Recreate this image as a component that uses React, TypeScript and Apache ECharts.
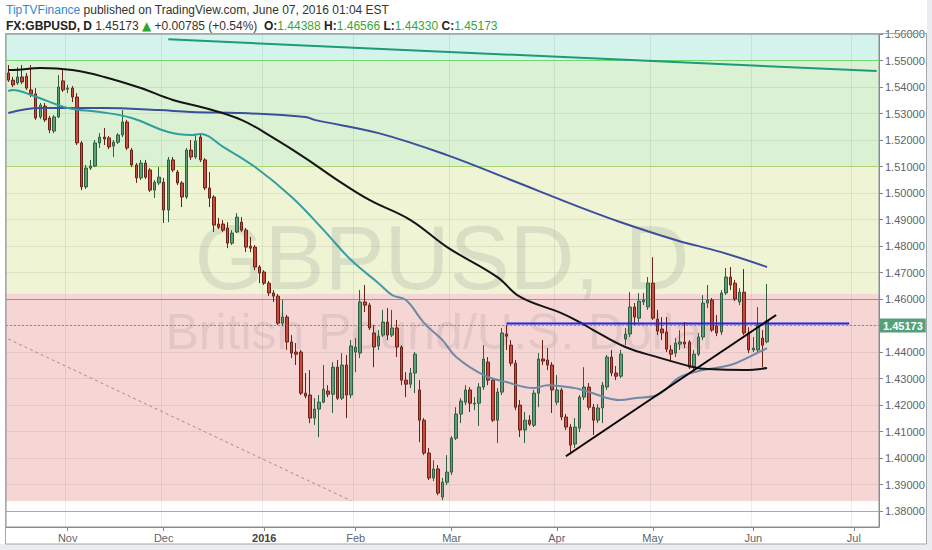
import { useEffect, useRef } from 'react';
import * as echarts from 'echarts';

// ---- categories (daily FX bars, weekdays, market closed on the listed days)
const firstDay = '2015-10-14';
const lastDay = '2016-07-08';
const closedDays = ['2015-12-25', '2016-01-01'];
const monthNames = ['Jan', 'Feb', 'Mar', 'Apr', 'May', 'Jun', 'Jul', 'Aug', 'Sep', 'Oct', 'Nov', 'Dec'];

// ---- candles: [open, close, low, high]
const candles: number[][] = [
  [1.5453, 1.5426, 1.5419, 1.5483], [1.5426, 1.5408, 1.54, 1.5438], [1.5415, 1.5438, 1.5408, 1.5475],
  [1.5438, 1.5419, 1.5411, 1.5483], [1.5441, 1.5396, 1.5389, 1.5453], [1.5389, 1.5374, 1.5362, 1.5483],
  [1.5374, 1.5283, 1.5276, 1.5396], [1.5287, 1.5332, 1.5279, 1.534], [1.5328, 1.5276, 1.5268, 1.534],
  [1.5283, 1.5238, 1.5226, 1.5291], [1.5234, 1.5287, 1.5226, 1.5294], [1.5287, 1.54, 1.5283, 1.5445],
  [1.5423, 1.5389, 1.5381, 1.5464], [1.5392, 1.5396, 1.5377, 1.5408], [1.5396, 1.5362, 1.5343, 1.5404],
  [1.5362, 1.5189, 1.5181, 1.5377], [1.5189, 1.5023, 1.5011, 1.5196], [1.5023, 1.5094, 1.5015, 1.5106],
  [1.5094, 1.5102, 1.5087, 1.5125], [1.5102, 1.5189, 1.5098, 1.52], [1.5189, 1.5211, 1.517, 1.5226],
  [1.5211, 1.5204, 1.5181, 1.5245], [1.5208, 1.5174, 1.5166, 1.5215], [1.5177, 1.5192, 1.5136, 1.52],
  [1.5192, 1.5219, 1.5185, 1.5226], [1.5219, 1.5268, 1.5211, 1.5313], [1.5268, 1.517, 1.5162, 1.5276],
  [1.5162, 1.5106, 1.5098, 1.517], [1.5106, 1.5057, 1.5038, 1.5113], [1.5057, 1.5113, 1.5049, 1.5125],
  [1.5113, 1.506, 1.5053, 1.5125], [1.5087, 1.5011, 1.5004, 1.5094], [1.5011, 1.5041, 1.4981, 1.5049],
  [1.5038, 1.506, 1.503, 1.5098], [1.5041, 1.4936, 1.4887, 1.5057], [1.4936, 1.5125, 1.489, 1.5136],
  [1.5125, 1.5087, 1.5079, 1.5136], [1.5079, 1.5038, 1.503, 1.5087], [1.5038, 1.4985, 1.4947, 1.5045],
  [1.4985, 1.5162, 1.4977, 1.517], [1.5162, 1.5136, 1.5125, 1.52], [1.5136, 1.5196, 1.5128, 1.5219],
  [1.5211, 1.5125, 1.5117, 1.5219], [1.5125, 1.5019, 1.5011, 1.5132], [1.5019, 1.4981, 1.4947, 1.5079],
  [1.4985, 1.4879, 1.4853, 1.4992], [1.4883, 1.4871, 1.4864, 1.4906], [1.4883, 1.486, 1.4853, 1.4898],
  [1.4868, 1.4811, 1.4792, 1.489], [1.4811, 1.4849, 1.4804, 1.486], [1.4853, 1.4909, 1.4849, 1.4924],
  [1.489, 1.486, 1.4853, 1.4909], [1.486, 1.4796, 1.4777, 1.4868], [1.48, 1.4792, 1.4777, 1.4834],
  [1.4796, 1.4721, 1.4709, 1.4804], [1.4721, 1.4698, 1.466, 1.4728], [1.4702, 1.466, 1.4653, 1.4709],
  [1.466, 1.4623, 1.4611, 1.4668], [1.4623, 1.4611, 1.4589, 1.4634], [1.4611, 1.4509, 1.4502, 1.4619],
  [1.4509, 1.4532, 1.4498, 1.4596], [1.4532, 1.4438, 1.4408, 1.454], [1.4438, 1.4396, 1.4377, 1.4464],
  [1.44, 1.4392, 1.4351, 1.4434], [1.44, 1.4245, 1.4238, 1.4408], [1.4245, 1.4234, 1.4226, 1.4321],
  [1.4238, 1.4151, 1.4132, 1.4332], [1.4151, 1.4185, 1.4125, 1.4226], [1.4185, 1.4211, 1.4079, 1.4238],
  [1.4211, 1.426, 1.4207, 1.4351], [1.4253, 1.4241, 1.423, 1.4275], [1.4241, 1.4343, 1.417, 1.4362],
  [1.4343, 1.4226, 1.4219, 1.437], [1.4226, 1.4351, 1.4219, 1.4396], [1.4351, 1.4238, 1.4151, 1.4389],
  [1.4238, 1.4423, 1.4226, 1.4445], [1.44, 1.4419, 1.4324, 1.4453], [1.4396, 1.4589, 1.4377, 1.4634],
  [1.4589, 1.4577, 1.4551, 1.4653], [1.4577, 1.4491, 1.4483, 1.4585], [1.4472, 1.4419, 1.4343, 1.4502],
  [1.4423, 1.446, 1.4408, 1.4483], [1.4464, 1.4513, 1.4457, 1.4559], [1.4513, 1.4464, 1.4445, 1.4566],
  [1.4464, 1.4491, 1.4457, 1.4559], [1.4491, 1.4419, 1.4381, 1.4521], [1.4419, 1.4294, 1.4275, 1.4426],
  [1.4294, 1.4279, 1.423, 1.4324], [1.4279, 1.4321, 1.4264, 1.434], [1.4321, 1.4392, 1.4245, 1.44],
  [1.4257, 1.4143, 1.406, 1.4294], [1.4143, 1.4019, 1.4011, 1.4151], [1.4019, 1.3925, 1.3917, 1.4038],
  [1.3925, 1.3959, 1.3913, 1.3992], [1.3959, 1.3868, 1.386, 1.3974], [1.3853, 1.3909, 1.3841, 1.3925],
  [1.3909, 1.3947, 1.3898, 1.4011], [1.3947, 1.4075, 1.3936, 1.4083], [1.4075, 1.4166, 1.4068, 1.4192],
  [1.4166, 1.4215, 1.4132, 1.4226], [1.4211, 1.4257, 1.42, 1.4275], [1.4257, 1.4207, 1.4174, 1.4268],
  [1.4204, 1.4207, 1.4181, 1.423], [1.4207, 1.4268, 1.4121, 1.4283], [1.4268, 1.4374, 1.4257, 1.4426],
  [1.4362, 1.4294, 1.4275, 1.4381], [1.4294, 1.4143, 1.4136, 1.4302], [1.4143, 1.4249, 1.4057, 1.4264],
  [1.4249, 1.4472, 1.4238, 1.4491], [1.4468, 1.446, 1.4408, 1.4502], [1.4426, 1.4358, 1.4347, 1.4445],
  [1.4358, 1.4192, 1.4181, 1.437], [1.42, 1.4106, 1.4079, 1.4219], [1.4106, 1.4143, 1.4057, 1.4174],
  [1.4143, 1.4128, 1.4121, 1.4162], [1.4124, 1.4245, 1.4117, 1.4257], [1.4245, 1.4374, 1.4192, 1.4396],
  [1.4374, 1.4366, 1.4351, 1.4445], [1.437, 1.4351, 1.4332, 1.4415], [1.4351, 1.4257, 1.417, 1.4362],
  [1.4211, 1.4257, 1.42, 1.4313], [1.4257, 1.4155, 1.4143, 1.4264], [1.4155, 1.4117, 1.4106, 1.4166],
  [1.4117, 1.4049, 1.4015, 1.4128], [1.4053, 1.4117, 1.4038, 1.4151], [1.4113, 1.423, 1.4098, 1.4238],
  [1.423, 1.4268, 1.4219, 1.4343], [1.4268, 1.4192, 1.4181, 1.4283], [1.4192, 1.4143, 1.4087, 1.4204],
  [1.4143, 1.4189, 1.4132, 1.4204], [1.4189, 1.4275, 1.4132, 1.4287], [1.4268, 1.4381, 1.4257, 1.4389],
  [1.4381, 1.4321, 1.4309, 1.4408], [1.4321, 1.4309, 1.4294, 1.4347], [1.4309, 1.4392, 1.4302, 1.4408],
  [1.4449, 1.4468, 1.4426, 1.4491], [1.4468, 1.457, 1.4457, 1.4626], [1.457, 1.4532, 1.4502, 1.4585],
  [1.4528, 1.4592, 1.4513, 1.4623], [1.4589, 1.4596, 1.4577, 1.4623], [1.457, 1.466, 1.4559, 1.4683],
  [1.466, 1.4528, 1.4521, 1.4758], [1.4524, 1.4479, 1.4464, 1.4559], [1.4487, 1.4472, 1.4445, 1.4532],
  [1.4476, 1.4411, 1.44, 1.4532], [1.4408, 1.4392, 1.437, 1.4426], [1.4396, 1.4434, 1.4381, 1.4453],
  [1.443, 1.4438, 1.4408, 1.4483], [1.4438, 1.443, 1.4415, 1.4513], [1.4438, 1.4343, 1.4336, 1.4445],
  [1.4343, 1.4392, 1.4332, 1.4408], [1.4392, 1.4457, 1.4385, 1.4472], [1.4457, 1.4585, 1.4445, 1.4615],
  [1.4585, 1.4596, 1.4566, 1.4653], [1.4596, 1.4483, 1.4476, 1.4604], [1.4498, 1.4472, 1.446, 1.454],
  [1.4476, 1.4623, 1.4464, 1.4634], [1.4623, 1.4683, 1.4615, 1.4717], [1.4683, 1.4653, 1.4634, 1.4721],
  [1.466, 1.46, 1.4592, 1.4672], [1.4589, 1.4626, 1.4577, 1.4641], [1.4626, 1.4472, 1.4464, 1.4713],
  [1.4472, 1.4408, 1.4396, 1.4494], [1.4408, 1.4415, 1.44, 1.4457], [1.4408, 1.4502, 1.44, 1.457],
  [1.4453, 1.4426, 1.4343, 1.4483], [1.44388, 1.45173, 1.4433, 1.46566],
];

// ---- moving averages: [bar index, value]
const maBlack: number[][] = [
  [0, 1.5464], [1, 1.5464], [7, 1.5472], [14, 1.5464], [21, 1.5438], [29, 1.5396], [36, 1.5351],
  [43, 1.5321], [51, 1.5276], [58, 1.5208], [65, 1.5132], [72, 1.5049], [79, 1.4974], [88, 1.4898],
  [96, 1.4796], [107, 1.4683], [112, 1.4608], [121, 1.4547], [125, 1.4513], [128, 1.4483],
  [135, 1.4419], [142, 1.4381], [150, 1.4343], [153, 1.4336], [161, 1.4332], [166, 1.434],
];
const maTeal: number[][] = [
  [0, 1.5385], [1, 1.5389], [5, 1.537], [13, 1.5321], [20, 1.5306], [27, 1.5283], [35, 1.523],
  [40, 1.5219], [42, 1.5223], [47, 1.5174], [54, 1.5098], [62, 1.4985], [69, 1.486], [75, 1.4747],
  [81, 1.466], [84, 1.4615], [87, 1.4596], [91, 1.4509], [95, 1.4445], [98, 1.4381], [104, 1.4313],
  [109, 1.4287], [115, 1.4264], [118, 1.4275], [124, 1.4264], [127, 1.4249], [134, 1.4219],
  [137, 1.4226], [142, 1.4238], [147, 1.4306], [152, 1.4332], [158, 1.4351], [162, 1.4381], [166, 1.4415],
];
const maNavy: number[][] = [
  [0, 1.5302], [7, 1.5321], [21, 1.5321], [33, 1.5313], [40, 1.5306], [51, 1.5302], [65, 1.5287],
  [67, 1.5276], [81, 1.5226], [96, 1.5143], [110, 1.5049], [125, 1.4947], [134, 1.489], [146, 1.4823],
  [156, 1.4777], [166, 1.4721],
];

// ---- drawn lines: [bar index, value]
const longTrend: number[][] = [[35, 1.558], [190, 1.546]];
const dashedTrend: number[][] = [[0, 1.4449], [75, 1.3839]];
const blueLevel: number[][] = [[109, 1.4508], [184, 1.4508]];
const riseTrend: number[][] = [[122, 1.4007], [168, 1.454]];

// ---- zones and levels
const bandLevels = [1.3838, 1.4619, 1.5102, 1.5495, 1.56];
const bandColors = ['#f6d6d5', '#eef4d4', '#daf2d3', '#d4f3ea'];
const levelColors = ['#a7a9ab', '#d27c6c', '#a9d474', '#6fd86f'];
const lastPrice = 1.45173;
const yMin = 1.374;
const yMax = 1.56;

// ---- header texts
const author = 'TipTVFinance';
const published = ' published on TradingView.com, June 07, 2016 01:04 EST';
const symbolName = 'FX:GBPUSD, D';
const change = '+0.00785 (+0.54%)';
const ohlcLabels = ['O:', 'H:', 'L:', 'C:'];
const ohlcValues = ['1.44388', '1.46566', '1.44330', '1.45173'];
const watermark1 = 'GBPUSD, D';
const watermark2 = 'British Pound/U.S. Dollar';

function tradingDays(): string[] {
  const out: string[] = [];
  const d = new Date(firstDay + 'T00:00:00Z');
  const end = new Date(lastDay + 'T00:00:00Z');
  while (d <= end) {
    const wd = d.getUTCDay();
    const s = d.toISOString().slice(0, 10);
    if (wd !== 0 && wd !== 6 && closedDays.indexOf(s) < 0) out.push(s);
    d.setUTCDate(d.getUTCDate() + 1);
  }
  return out;
}

const FONT = 'Liberation Sans, Arial, sans-serif';

export default function App() {
  const ref = useRef<HTMLDivElement>(null);
  useEffect(() => {
    document.body.style.margin = '0';
    const days = tradingDays();
    const monthStart = (i: number) =>
      i > 0 && days[i].slice(5, 7) !== days[i - 1].slice(5, 7);
    const chart = echarts.init(ref.current!, undefined, { renderer: 'svg' });

    const header2 =
      `{k|${symbolName}} {n|${lastPrice.toFixed(5)}} {t|▲}{n| ${change}}  ` +
      ohlcLabels.map((l, i) => `{k|${l}}{v|${ohlcValues[i]}}`).join(' ');

    const option: any = {
      animation: false,
      backgroundColor: '#ffffff',
      textStyle: { fontFamily: FONT },
      grid: {
        left: 6, right: 53, top: 34, bottom: 23, show: true, z: 3,
        borderColor: '#8d9296', borderWidth: 1, backgroundColor: 'transparent',
      },
      xAxis: {
        type: 'category', data: days, boundaryGap: true, z: 2,
        axisLine: { show: true, lineStyle: { color: '#80868b' } },
        axisTick: { show: true, interval: (i: number) => monthStart(i), alignWithLabel: true, length: 4, lineStyle: { color: '#80868b' } },
        axisLabel: {
          interval: (i: number) => monthStart(i), color: '#5f6368', fontSize: 11, margin: 5, fontFamily: FONT,
          formatter: (v: string) => {
            const m = parseInt(v.slice(5, 7), 10) - 1;
            return m === 0 ? `{y|${v.slice(0, 4)}}` : monthNames[m];
          },
          rich: { y: { fontWeight: 'bold', color: '#444', fontSize: 11, fontFamily: FONT } },
        },
        splitLine: { show: true, interval: (i: number) => monthStart(i), lineStyle: { color: 'rgba(0,0,0,0.07)' } },
      },
      yAxis: {
        type: 'value', position: 'right', min: yMin, max: yMax, splitNumber: 18, scale: true, z: 2,
        axisLine: { show: true, lineStyle: { color: '#80868b' } },
        axisTick: { show: true, length: 4, lineStyle: { color: '#80868b' } },
        axisLabel: {
          color: '#5f6368', fontSize: 11, margin: 6, fontFamily: FONT, showMinLabel: false,
          formatter: (v: number) => (Math.abs(v - 1.45) < 1e-6 || v < 1.3795 ? '' : v.toFixed(5)),
        },
        splitLine: { show: true, lineStyle: { color: 'rgba(0,0,0,0.07)' } },
      },
      graphic: [
        { type: 'rect', z: 0, shape: { x: 927, y: 0, width: 5, height: 550 }, style: { fill: '#e9edf0' } },
        { type: 'rect', z: 0, shape: { x: 0, y: 544, width: 932, height: 6 }, style: { fill: '#e9edf0' } },
        { type: 'rect', z: 10, shape: { x: 5.5, y: 33.5, width: 921, height: 510.5 }, style: { fill: 'none', stroke: '#a3a8ac', lineWidth: 1 } },
        {
          type: 'text', x: 6, y: 10, z: 10,
          style: {
            text: `{a|${author}}{b|${published}}`, verticalAlign: 'middle',
            rich: {
              a: { fill: '#2f8ad2', fontSize: 12, fontFamily: FONT },
              b: { fill: '#333333', fontSize: 12, fontFamily: FONT },
            },
          },
        },
        {
          type: 'text', x: 6, y: 26, z: 10,
          style: {
            text: header2, verticalAlign: 'middle',
            rich: {
              k: { fill: '#222222', fontSize: 12, fontWeight: 'bold', fontFamily: FONT },
              n: { fill: '#333333', fontSize: 12, fontFamily: FONT },
              t: { fill: '#2ea52e', fontSize: 12, fontFamily: 'DejaVu Sans' },
              v: { fill: '#3aa43a', fontSize: 12, fontFamily: FONT },
            },
          },
        },
        {
          type: 'text', x: 442, y: 258, z: 3, silent: true,
          style: { text: watermark1, align: 'center', verticalAlign: 'middle', fontSize: 90, fontFamily: FONT, fill: 'rgba(110,120,110,0.16)' },
        },
        {
          type: 'text', x: 442, y: 332, z: 3, silent: true,
          style: { text: watermark2, align: 'center', verticalAlign: 'middle', fontSize: 50, fontFamily: FONT, fill: 'rgba(110,110,110,0.14)' },
        },
      ],
      series: [
        {
          name: 'zones', type: 'line', data: [], z: 1, silent: true,
          markArea: {
            silent: true,
            data: bandColors.map((c, i) => [
              { yAxis: bandLevels[i], itemStyle: { color: c } },
              { yAxis: bandLevels[i + 1] },
            ]),
          },
          markLine: {
            silent: true, symbol: ['none', 'none'], label: { show: false },
            data: levelColors.map((c, i) => ({ yAxis: bandLevels[i], lineStyle: { color: c, width: 1, type: 'solid' } })),
          },
        },
        {
          name: 'GBPUSD', type: 'candlestick', data: candles, z: 5, barWidth: 3,
          itemStyle: {
            color: '#5f9f78', color0: '#cc4a3b', borderColor: '#2c5e3f', borderColor0: '#6a2118', borderWidth: 1,
          },
          markLine: {
            silent: true, symbol: ['none', 'none'],
            data: [{
              yAxis: lastPrice,
              lineStyle: { color: '#8a8a8a', type: [2, 2], width: 1 },
              label: {
                show: true, position: 'end', distance: 1, formatter: lastPrice.toFixed(5),
                backgroundColor: '#54a07a', color: '#ffffff', fontSize: 11, fontWeight: 'bold',
                padding: [2, 3, 1, 3], fontFamily: FONT,
              },
            }],
          },
        },
        {
          name: 'MA navy', type: 'line', data: maNavy, z: 6, smooth: 0.4, symbol: 'none',
          lineStyle: { color: '#3b4f9c', width: 2 },
        },
        {
          name: 'MA teal', type: 'line', data: maTeal, z: 6, smooth: 0.4, symbol: 'none',
          lineStyle: {
            width: 2,
            color: new echarts.graphic.LinearGradient(0, 0, 0, 1, [
              { offset: 0, color: '#2f9f98' }, { offset: 0.6, color: '#3a9ca8' },
              { offset: 0.7, color: '#6c8aa8' }, { offset: 1, color: '#7088a6' },
            ]),
          },
        },
        {
          name: 'MA black', type: 'line', data: maBlack, z: 6, smooth: 0.4, symbol: 'none',
          lineStyle: { color: '#141414', width: 2 },
        },
        {
          name: 'long trend', type: 'line', data: longTrend, z: 6, symbol: 'none',
          lineStyle: { color: '#1e9a7a', width: 2 },
        },
        {
          name: 'dashed trend', type: 'line', data: dashedTrend, z: 6, symbol: 'none',
          lineStyle: { color: '#b8857a', width: 1, type: [3, 3] },
        },
        {
          name: 'level', type: 'line', data: blueLevel, z: 6, symbol: 'none',
          lineStyle: { color: '#1f22e6', width: 2 },
        },
        {
          name: 'rise trend', type: 'line', data: riseTrend, z: 7, symbol: 'none',
          lineStyle: { color: '#000000', width: 2 },
        },
      ],
    };
    chart.setOption(option);
    return () => chart.dispose();
  }, []);
  return <div ref={ref} style={{ position: 'absolute', left: 0, top: 0, width: 932, height: 550 }} />;
}
